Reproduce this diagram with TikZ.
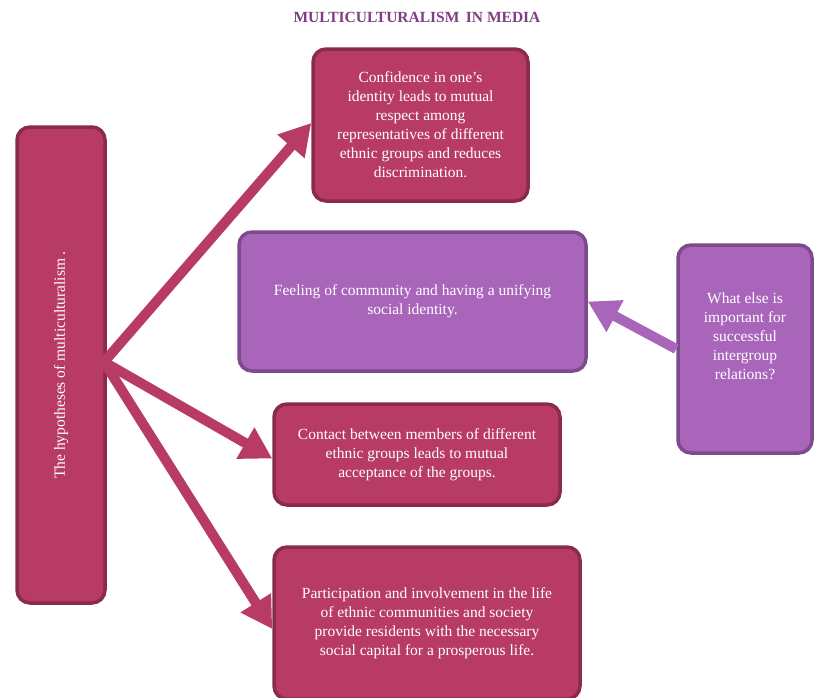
\documentclass[tikz,border=0pt]{standalone}
\usepackage{fontspec}
\setmainfont{Liberation Serif}
\usepackage{xcolor}
\definecolor{crimson}{HTML}{B73B64}
\definecolor{crimsondark}{HTML}{8A2B4C}
\definecolor{violet}{HTML}{A965BA}
\definecolor{violetdark}{HTML}{7D4A8C}
\definecolor{titlecol}{HTML}{7E3F82}
\usetikzlibrary{arrows.meta,positioning}

\begin{document}
\begin{tikzpicture}[x=1pt, y=-1pt,
  B/.style={rounded corners=13pt, line width=3.5pt, align=center,
    text=white, font=\fontsize{15.5}{19}\selectfont, inner sep=0pt},
  red/.style={B, fill=crimson, draw=crimsondark},
  lila/.style={B, fill=violet, draw=violetdark},
  spoke/.style={-{Triangle[length=31pt, width=34pt]}, crimson, line width=10pt},
  ret/.style={-{Triangle[length=31pt, width=34pt]}, violet, line width=10pt}]

  \useasboundingbox (0,0) rectangle (814,697);

  \node[font=\bfseries\fontsize{15.5}{17}\selectfont, text=titlecol] (title) at (417,17)
    {MULTICULTURALISM\, IN MEDIA};

  \node[red, minimum width=88pt, minimum height=476pt] (hyp) at (61,365)
    {\rotatebox{90}{The hypotheses of multiculturalism .}};
  \node[red, minimum width=215pt, minimum height=152pt] (conf) at (420.5,125)
    {Confidence in one's\\identity leads to mutual\\respect among\\representatives of different\\ethnic groups and reduces\\discrimination.};
  \node[lila, minimum width=347pt, minimum height=139pt] (feel) at (412.5,301.5)
    {Feeling of community and having a unifying\\social identity.};
  \node[red, minimum width=286pt, minimum height=101pt] (cont) at (417,454.5)
    {Contact between members of different\\ethnic groups leads to mutual\\acceptance of the groups.};
  \node[red, minimum width=306pt, minimum height=152pt] (part) at (427,623)
    {Participation and involvement in the life\\of ethnic communities and society\\provide residents with the necessary\\social capital for a prosperous life.};
  \node[lila, minimum width=134pt, minimum height=208pt] (ask) at (745,349) {};
  \node[B] (asktext) at (745,336)
    {What else is\\important for\\successful\\intergroup\\relations?};

  % spokes from the hypotheses box
  \coordinate (hub) at (104,362);
  \draw[spoke] (hub) -- ([yshift=2pt]conf.west);
  \draw[spoke] (hub) -- ([yshift=-4pt]cont.west);
  \draw[spoke] (hub) -- ([yshift=-6pt]part.west);

  % question feeds back into the community box
  \draw[ret] (ask.west) -- (feel.east);
\end{tikzpicture}
\end{document}
